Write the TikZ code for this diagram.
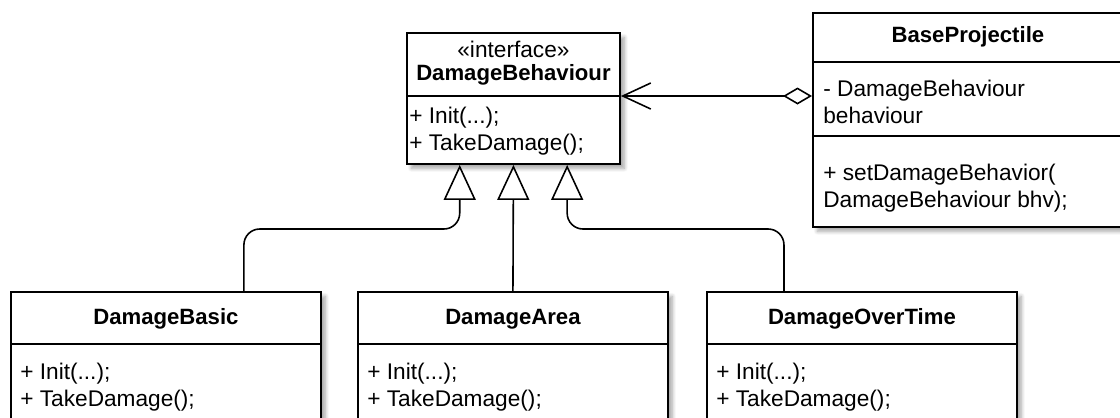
\documentclass[tikz,border=0pt]{standalone}
\usepackage{fontspec}
\setmainfont{Liberation Sans}
\usetikzlibrary{arrows.meta,calc,shadows.blur}

\tikzset{
  umlbox/.style={draw, line width=1.1pt, fill=white, inner sep=0pt, anchor=north west,
    minimum width=6.2cm,
    blur shadow={shadow xshift=2.5pt, shadow yshift=-2.5pt, shadow blur steps=8, shadow opacity=35}},
  divider/.style={line width=1.1pt},
  classname/.style={font=\fontsize{12.6}{15.4}\selectfont\bfseries},
  members/.style={anchor=west, align=left, inner sep=0pt},
  realize/.style={line width=0.9pt, rounded corners=9pt,
    -{Triangle[open, length=0.7cm, width=0.64cm, line width=0.9pt]}},
  aggregate/.style={line width=0.9pt,
    {Diamond[open, length=0.58cm, width=0.34cm, line width=0.9pt]}-{Straight Barb[length=0.56cm, width=0.52cm, line width=0.9pt]}}
}

\begin{document}
\begin{tikzpicture}[x=0.02cm, y=-0.02cm, font=\fontsize{12.9}{15.6}\selectfont]
  \useasboundingbox (0,0) rectangle (1120,417);

  % class boxes
  \node[umlbox, minimum width=4.26cm, minimum height=2.62cm] (behav) at (406,32) {};
  \node[umlbox, minimum height=4.28cm] (proj) at (812,12) {};
  \node[umlbox, minimum height=2.8cm] (basic) at (10,291) {};
  \node[umlbox, minimum height=2.8cm] (area) at (357,291) {};
  \node[umlbox, minimum height=2.8cm] (overtime) at (706,291) {};

  \draw[divider] (behav.west |- 0,96) -- (behav.east |- 0,96);
  \draw[divider] (proj.west |- 0,62) -- (proj.east |- 0,62);
  \draw[divider] (proj.west |- 0,136) -- (proj.east |- 0,136);
  \foreach \c in {basic,area,overtime}
    \draw[divider] (\c.west |- 0,344) -- (\c.east |- 0,344);

  % texts
  \node at (behav.north |- 0,49) {«interface»};
  \node[classname] at (behav.north |- 0,75) {DamageBehaviour};
  \node[members] at (409,131) {+ Init(...);\\+ TakeDamage();};

  \node[classname] at (proj.north |- 0,37) {BaseProjectile};
  \node[members] at (823,102) {- DamageBehaviour\\behaviour};
  \node[members] at (823,188) {+ setDamageBehavior(\\DamageBehaviour bhv);};

  \node[classname] at (basic.north |- 0,319) {DamageBasic};
  \node[classname] at (area.north |- 0,319) {DamageArea};
  \node[classname] at (overtime.north |- 0,319) {DamageOverTime};
  \node[members] at (20,387) {+ Init(...);\\+ TakeDamage();};
  \node[members] at (367,387) {+ Init(...);\\+ TakeDamage();};
  \node[members] at (716,387) {+ Init(...);\\+ TakeDamage();};

  % connectors
  \draw[realize] ($(basic.north west)!.75!(basic.north east)$) -- ++(0,-62)
    -| ($(behav.south west)!.25!(behav.south east)$);
  \draw[realize] (area.north) -- (behav.south);
  \draw[realize] ($(overtime.north west)!.25!(overtime.north east)$) -- ++(0,-62)
    -| ($(behav.south west)!.75!(behav.south east)$);
  \draw[aggregate] (proj.west |- 0,96) -- (behav.east |- 0,96);
\end{tikzpicture}
\end{document}
